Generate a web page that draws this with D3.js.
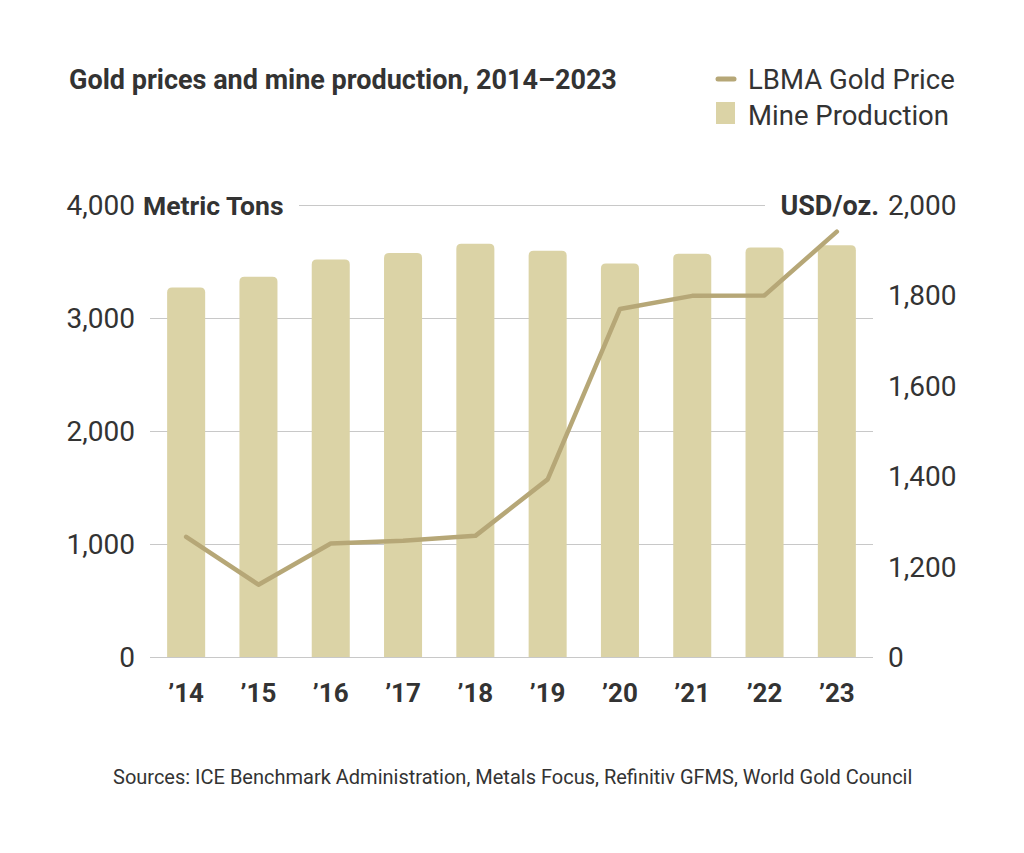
<!DOCTYPE html>
<html>
<head>
<meta charset="utf-8">
<script src="https://cdn.jsdelivr.net/npm/d3@7"></script>
<style>
  body { margin: 0; background: #fff; }
  text { font-family: Roboto, "Noto Sans", sans-serif; fill: #333; }
</style>
</head>
<body>
<svg id="chart" width="1024" height="853"></svg>
<script>
// Data
const years = ['’14', '’15', '’16', '’17', '’18', '’19', '’20', '’21', '’22', '’23'];
const mineProduction = [3270, 3364, 3517, 3575, 3656, 3596, 3482, 3568, 3625, 3644];
const goldPrice = [1266, 1160, 1251, 1257, 1268, 1393, 1770, 1799, 1800, 1941];
const leftTicks = [0, 1000, 2000, 3000, 4000];
const rightTicks = [1000, 1200, 1400, 1600, 1800, 2000];
const rightTickLabels = ['0', '1,200', '1,400', '1,600', '1,800', '2,000'];

const BAR_COLOR = '#dbd3a6';
const LINE_COLOR = '#b6a777';
const GRID_COLOR = '#c8c8c8';

const svg = d3.select('#chart');

const x = d3.scaleBand()
    .domain(years)
    .range([150, 873])
    .paddingInner(0.474)
    .paddingOuter(0.237);

const yLeft = d3.scaleLinear().domain([0, 4000]).range([657, 205]);
// right axis starts its labelled range at 1,000 (shown as "0")
const yRight = d3.scaleLinear().domain([1000, 2000]).range([657, 205]);

// Gridlines
svg.append('g')
    .selectAll('line')
    .data(leftTicks)
    .join('line')
    .attr('x1', d => d === 4000 ? 299 : 150)
    .attr('x2', d => d === 4000 ? 765 : 873)
    .attr('y1', d => yLeft(d) + 0.5)
    .attr('y2', d => yLeft(d) + 0.5)
    .style('stroke', GRID_COLOR)
    .style('stroke-width', 1);

// Bars with slightly rounded tops
const r = 5;
svg.append('g')
    .selectAll('path')
    .data(mineProduction)
    .join('path')
    .attr('d', (d, i) => {
        const x0 = x(years[i]), w = x.bandwidth();
        const y0 = yLeft(d), y1 = yLeft(0);
        return `M${x0},${y1}V${y0 + r}Q${x0},${y0} ${x0 + r},${y0}` +
            `H${x0 + w - r}Q${x0 + w},${y0} ${x0 + w},${y0 + r}V${y1}Z`;
    })
    .style('fill', BAR_COLOR);

// Price line
const line = d3.line()
    .x((d, i) => x(years[i]) + x.bandwidth() / 2)
    .y(d => yRight(d));

svg.append('path')
    .datum(goldPrice)
    .attr('d', line)
    .style('fill', 'none')
    .style('stroke', LINE_COLOR)
    .style('stroke-width', 4.5)
    .style('stroke-linecap', 'round')
    .style('stroke-linejoin', 'round');

// Left axis labels
svg.append('g')
    .selectAll('text')
    .data(leftTicks)
    .join('text')
    .attr('x', 135)
    .attr('y', d => yLeft(d) + 10)
    .attr('text-anchor', 'end')
    .style('font-size', '28px')
    .text(d => d3.format(',')(d));

svg.append('text')
    .attr('x', 143)
    .attr('y', yLeft(4000) + 10)
    .style('font-size', '26.5px')
    .style('font-weight', 'bold')
    .text('Metric Tons');

// Right axis labels
svg.append('g')
    .selectAll('text')
    .data(rightTicks)
    .join('text')
    .attr('x', 888)
    .attr('y', d => yRight(d) + 10)
    .style('font-size', '28px')
    .text((d, i) => rightTickLabels[i]);

svg.append('text')
    .attr('x', 879)
    .attr('y', yRight(2000) + 10)
    .attr('text-anchor', 'end')
    .style('font-size', '27px')
    .style('font-weight', 'bold')
    .text('USD/oz.');

// X axis labels
svg.append('g')
    .selectAll('text')
    .data(years)
    .join('text')
    .attr('x', d => x(d) + x.bandwidth() / 2)
    .attr('y', 702)
    .attr('text-anchor', 'middle')
    .style('font-size', '26px')
    .style('font-weight', 'bold')
    .text(d => d);

// Title
svg.append('text')
    .attr('x', 69)
    .attr('y', 89)
    .style('font-size', '27px')
    .style('font-weight', 'bold')
    .text('Gold prices and mine production, 2014–2023');

// Legend
const legend = svg.append('g');
legend.append('line')
    .attr('x1', 718).attr('x2', 734)
    .attr('y1', 79).attr('y2', 79)
    .style('stroke', LINE_COLOR)
    .style('stroke-width', 5)
    .style('stroke-linecap', 'round');
legend.append('text')
    .attr('x', 748).attr('y', 89)
    .style('font-size', '27.5px')
    .text('LBMA Gold Price');
legend.append('rect')
    .attr('x', 716).attr('y', 102)
    .attr('width', 19).attr('height', 22)
    .style('fill', BAR_COLOR);
legend.append('text')
    .attr('x', 748).attr('y', 125)
    .style('font-size', '27.5px')
    .text('Mine Production');

// Source
svg.append('text')
    .attr('x', 113)
    .attr('y', 784)
    .style('font-size', '20px')
    .text('Sources: ICE Benchmark Administration, Metals Focus, Refinitiv GFMS, World Gold Council');
</script>
</body>
</html>
